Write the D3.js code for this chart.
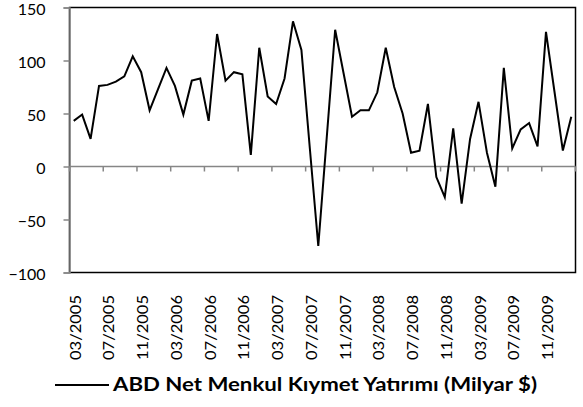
<!DOCTYPE html>
<html><head><meta charset="utf-8">
<script src="https://cdn.jsdelivr.net/npm/d3@7"></script>
<style>body{margin:0;background:#fff;}svg{display:block;}</style>
</head><body>
<svg id="c" width="583" height="407"></svg>
<script>
const months = [];
for (let i = 0; i < 60; i++) {
  const m = (2 + i) % 12 + 1, y = 2005 + Math.floor((2 + i) / 12);
  months.push((m < 10 ? "0" + m : "" + m) + "/" + y);
}
const values = [43,49,26,76,77,80,85,104,89,53,73,93,76,49,81,83,43,125,81,89,87,11,112,66,59,83,137,110,
  17,-75,27,129,88,47,53,53,70,112,75,50,13,15,59,-10,-29,36,-35,26,61,13,-19,93,17,35,41,19,127,71,15,47];
const yTicks = [-100,-50,0,50,100,150];
const tickLabels = ["03/2005","07/2005","11/2005","03/2006","07/2006","11/2006","03/2007","07/2007","11/2007","03/2008","07/2008","11/2008","03/2009","07/2009","11/2009"];
const legendLabel = "ABD Net Menkul Kıymet Yatırımı (Milyar $)";

const svg = d3.select("#c");
const L = 69.5, R = 575.5, T = 7.5, B = 272.5;
const x = d3.scaleBand().domain(d3.range(values.length)).range([L, R]).padding(0);
const y = d3.scaleLinear().domain([-100,150]).range([B, T]);
const font = "Lato, 'Open Sans', sans-serif";

// plot border
svg.append("rect").attr("x", L).attr("y", T).attr("width", R - L).attr("height", B - T)
  .attr("fill", "none").attr("stroke", "#000").attr("stroke-width", 1.5);

// y axis
const ya = svg.append("g").attr("transform", `translate(${L},0)`)
  .call(d3.axisLeft(y).tickValues(yTicks).tickSize(6).tickFormat(d3.format("d")));
ya.select(".domain").attr("stroke", "#868686").attr("stroke-width", 1.5);
ya.selectAll(".tick line").attr("stroke", "#868686").attr("stroke-width", 1.5);
ya.selectAll("text").attr("font-family", font).attr("font-size", 16).attr("fill", "#000")
  .attr("text-anchor", "end").attr("x", -24).attr("dy", "0.45em");

// x axis at zero: ticks at category boundaries every 4
const boundaries = d3.range(0, values.length + 1, 4);
const xa = svg.append("g");
xa.append("line").attr("x1", L).attr("x2", R).attr("y1", y(0)).attr("y2", y(0))
  .attr("stroke", "#868686").attr("stroke-width", 1.5);
xa.selectAll("line.tk").data(boundaries).join("line").attr("class", "tk")
  .attr("x1", i => L + i * x.step()).attr("x2", i => L + i * x.step())
  .attr("y1", y(0)).attr("y2", y(0) + 5).attr("stroke", "#868686").attr("stroke-width", 1.5);

// rotated labels
svg.append("g").selectAll("text").data(tickLabels).join("text")
  .attr("transform", (d) => {
    const i = months.indexOf(d);
    return `translate(${x(i) + x.bandwidth()/2 + 7},295) rotate(-90)`;
  })
  .attr("text-anchor", "end").attr("font-family", font).attr("font-size", 16)
  .attr("textLength", 65).attr("lengthAdjust", "spacingAndGlyphs").text(d => d);

// line
const line = d3.line().x((d, i) => x(i) + x.bandwidth()/2).y(d => y(d));
svg.append("path").datum(values).attr("d", line).attr("fill", "none")
  .attr("stroke", "#000").attr("stroke-width", 2).attr("stroke-linejoin", "miter");

// legend
svg.append("line").attr("x1", 55).attr("x2", 109).attr("y1", 385).attr("y2", 385)
  .attr("stroke", "#000").attr("stroke-width", 2);
svg.append("text").attr("x", 113).attr("y", 391).attr("font-family", font)
  .attr("font-weight", "bold").attr("font-size", 19)
  .attr("textLength", 424).attr("lengthAdjust", "spacingAndGlyphs").text(legendLabel);
</script>
</body></html>
